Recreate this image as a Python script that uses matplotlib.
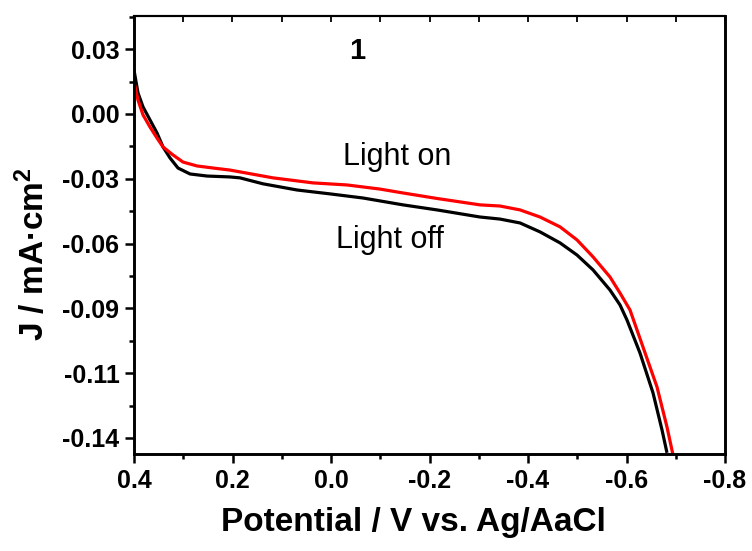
import matplotlib
matplotlib.use("Agg")
import matplotlib.pyplot as plt
from matplotlib.ticker import FixedLocator, MultipleLocator

plt.rcParams['font.family'] = ['Liberation Sans', 'DejaVu Sans']
plt.rcParams['mathtext.fontset'] = 'custom'
plt.rcParams['mathtext.rm'] = 'Liberation Sans:bold'
plt.rcParams['mathtext.bf'] = 'Liberation Sans:bold'
plt.rcParams['mathtext.it'] = 'Liberation Sans:bold'

# ---- data ----
v_off = [0.400, 0.3919, 0.3817, 0.3675, 0.3533, 0.3411, 0.3269, 0.3107, 0.2863, 0.2518,
         0.2051, 0.1848, 0.1381, 0.0690, 0.0020, -0.0650, -0.1462, -0.2152, -0.3025,
         -0.3431, -0.3838, -0.4244, -0.4650, -0.4995, -0.5320, -0.5665, -0.5868, -0.6010,
         -0.6274, -0.6538, -0.6721, -0.6822]
j_off = [0.0192, 0.0092, 0.0031, -0.0026, -0.0083, -0.0144, -0.0192, -0.0236, -0.0262, -0.0271,
         -0.0275, -0.0279, -0.0305, -0.0332, -0.0349, -0.0367, -0.0397, -0.0419, -0.0450,
         -0.0459, -0.0476, -0.0515, -0.0563, -0.0616, -0.0681, -0.0769, -0.0834, -0.0900,
         -0.1044, -0.1218, -0.1380, -0.1480]

v_on = [0.400, 0.3919, 0.3817, 0.3675, 0.3533, 0.3411, 0.3208, 0.3005, 0.2721, 0.2396,
        0.2051, 0.1178, 0.0365, -0.0325, -0.0995, -0.1462, -0.2152, -0.3025, -0.3431,
        -0.3838, -0.4244, -0.4650, -0.4995, -0.5320, -0.5665, -0.5868, -0.6071, -0.6335,
        -0.6619, -0.6822, -0.6944]
j_on = [0.0140, 0.0061, -0.0004, -0.0057, -0.0105, -0.0144, -0.0179, -0.0210, -0.0227, -0.0236,
        -0.0245, -0.0279, -0.0301, -0.0310, -0.0328, -0.0345, -0.0369, -0.0397, -0.0402,
        -0.0419, -0.0450, -0.0493, -0.0550, -0.0624, -0.0712, -0.0782, -0.0856, -0.1018,
        -0.1192, -0.1367, -0.1489]

xtick_values = [0.4, 0.2, 0.0, -0.2, -0.4, -0.6, -0.8]
xtick_labels = ["0.4", "0.2", "0.0", "-0.2", "-0.4", "-0.6", "-0.8"]
ytick_values = [0.0283, 0.0, -0.0283, -0.0566, -0.0849, -0.1132, -0.1415]
ytick_labels = ["0.03", "0.00", "-0.03", "-0.06", "-0.09", "-0.11", "-0.14"]

W, H = 752, 551
fig = plt.figure(figsize=(W / 100, H / 100), dpi=100)
ax = fig.add_axes([134 / W, 1 - 453.5 / H, (725 - 134) / W, (453.5 - 16) / H])

ax.plot(v_off, j_off, color='black', lw=2.3, solid_capstyle='butt', solid_joinstyle='round')
ax.plot(v_on, j_on, color='red', lw=2.3, solid_capstyle='butt', solid_joinstyle='round')

ax.set_xlim(0.4, -0.8)
ax.set_ylim(-0.1483, 0.0428)

ax.xaxis.set_major_locator(FixedLocator(xtick_values))
ax.set_xticklabels(xtick_labels)
ax.xaxis.set_minor_locator(MultipleLocator(0.1))
ax.yaxis.set_major_locator(FixedLocator(ytick_values))
ax.set_yticklabels(ytick_labels)
ax.yaxis.set_minor_locator(MultipleLocator(0.0283 / 2))

for s in ['left', 'bottom', 'right']:
    ax.spines[s].set_linewidth(2.1)
ax.spines['top'].set_linewidth(1.5)

ax.tick_params(which='major', direction='out', length=6.5, width=1.8, labelsize=18)
ax.tick_params(which='minor', direction='out', length=3.8, width=1.8)
ax.tick_params(axis='x', which='major', pad=5)
ax.tick_params(axis='y', which='major', pad=4)
for lab in ax.get_xticklabels() + ax.get_yticklabels():
    lab.set_fontweight('bold')

top = ax.secondary_xaxis('top')
top.xaxis.set_major_locator(MultipleLocator(0.1))
top.tick_params(direction='in', length=4, width=1.3, labeltop=False)
top.spines['top'].set_linewidth(1.5)

ax.text(-0.0528, 0.0275, "1", fontsize=21, fontweight='bold', ha='center', va='center')
ax.text(-0.0244, -0.0223, "Light on", fontsize=22, ha='left', va='baseline')
ax.text(-0.010, -0.0585, "Light off", fontsize=22, ha='left', va='baseline')

fig.text(413 / W, 1 - 523 / H, "Potential / V vs. Ag/AaCl", fontsize=24,
         fontweight='bold', ha='center', va='center')
fig.text(33 / W, 1 - 254 / H, "J / mA·cm$^{2}$", fontsize=24, fontweight='bold',
         rotation=90, ha='center', va='center')

fig.savefig("out.png", dpi=100)
